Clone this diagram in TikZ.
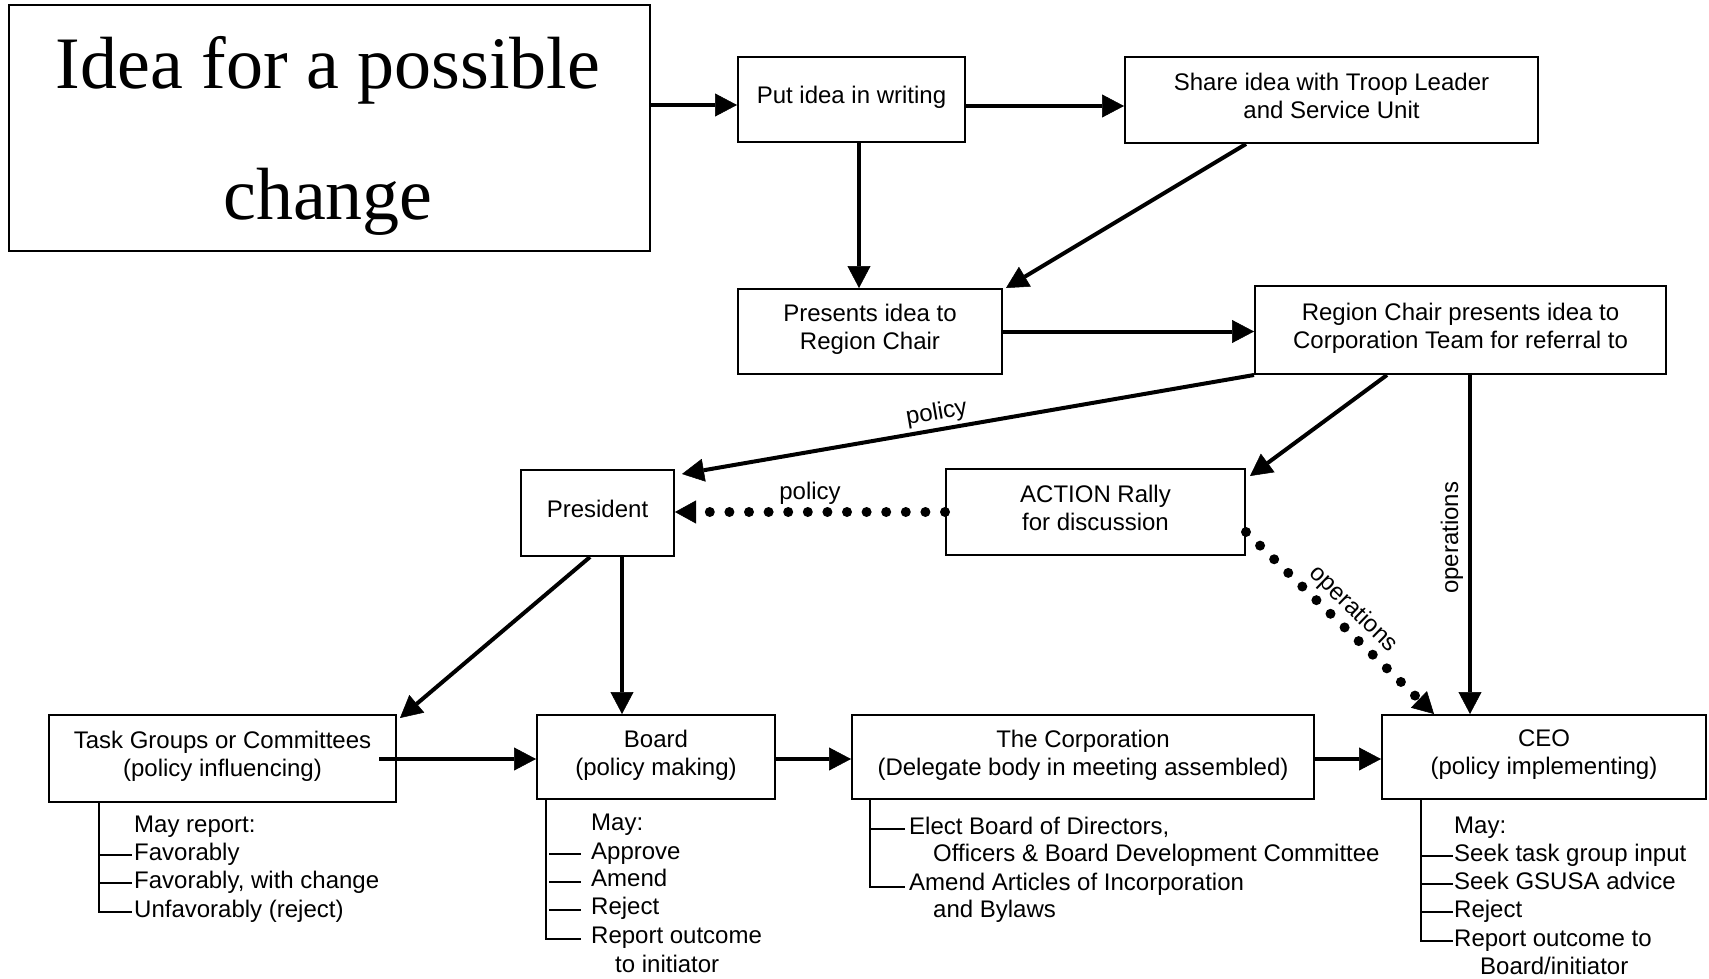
\documentclass[tikz,border=0pt]{standalone}
\usepackage{fontspec}
\setmainfont{Liberation Sans}
\newfontfamily\serifbig{Liberation Serif}
\usetikzlibrary{arrows.meta}
\begin{document}
\begin{tikzpicture}[x=1pt,y=-1pt,
  box/.style={draw, line width=2pt, inner sep=0pt, align=center, font=\fontsize{24}{28}\selectfont,
    execute at end node={\rule[-9pt]{0pt}{9pt}}},
  arr/.style={line width=4pt, -{Triangle[length=22pt,width=23pt,line width=0.5pt]}},
  dotarr/.style={line width=10pt, line cap=round, dash pattern=on 0pt off 19.6pt, -{Triangle[length=21pt,width=23pt,line width=0.5pt]}},
  lbl/.style={font=\fontsize{24}{28}\selectfont, inner sep=3pt},
  item/.style={anchor=base west, inner sep=0pt, font=\fontsize{24}{28}\selectfont},
  tick/.style={line width=2pt}]
\useasboundingbox[fill=white] (0,0) rectangle (1709,979);

% boxes
\node[draw, line width=2.5pt, inner sep=0pt, minimum width=641pt, minimum height=246pt] (idea) at (329.5,128) {};
\node[anchor=base, inner sep=0pt, font=\serifbig\fontsize{74}{80}\selectfont] (idea1) at (328,89) {Idea for a possible};
\node[anchor=base, inner sep=0pt, font=\serifbig\fontsize{74}{80}\selectfont] (idea2) at (328,219) {change};
\node[box, minimum width=227pt, minimum height=85pt] (write) at (851.5,99.5) {Put idea in writing};
\node[box, minimum width=413pt, minimum height=86pt] (share) at (1331.5,100) {Share idea with Troop Leader\\and Service Unit};
\node[box, minimum width=264pt, minimum height=85pt] (pres) at (870,331.5) {Presents idea to\\Region Chair};
\node[box, minimum width=411pt, minimum height=88pt] (region) at (1460.5,330) {Region Chair presents idea to\\Corporation Team for referral to};
\node[box, minimum width=153pt, minimum height=86pt] (president) at (597.5,513) {President};
\node[box, minimum width=299pt, minimum height=86pt] (action) at (1095.5,512) {ACTION Rally\\for discussion};
\node[box, minimum width=347pt, minimum height=87pt] (task) at (222.5,758.5) {Task Groups or Committees\\(policy influencing)};
\node[box, minimum width=238pt, minimum height=84pt] (board) at (656,757) {Board\\(policy making)};
\node[box, minimum width=462pt, minimum height=84pt] (corp) at (1083,757) {The Corporation\\(Delegate body in meeting assembled)};
\node[box, minimum width=324pt, minimum height=84pt] (ceo) at (1544,757) {CEO\\(policy implementing)};

% connectors
\draw[arr] (idea.east |- 0,105) -- (write.west |- 0,105);
\draw[arr] (write.east |- 0,106) -- (share.west |- 0,106);
\draw[arr] (write.south -| 859,0) -- (pres.north -| 859,0);
\draw[arr] (share.south -| 1246,0) -- ([xshift=3pt]pres.north east);
\draw[arr] (pres.east) -- (region.west |- pres.east);
\draw[arr] (region.south west) -- node[lbl, sloped, above, pos=0.55]{policy} ([xshift=7pt,yshift=-5pt]president.north east);
\draw[arr] (region.south -| 1387,0) -- ([xshift=4pt,yshift=-8pt]action.north east);
\draw[arr] (region.south -| 1470,0) -- node[lbl, inner sep=5pt, rotate=90, anchor=south, pos=0.48]{operations} (ceo.north -| 1470,0);
\draw[dotarr] (action.west) -- node[lbl, above]{policy} (president.east |- action.west);
\draw[dotarr] ([yshift=-20pt]action.east) -- node[lbl, sloped, above, pos=0.5]{operations} ([xshift=53pt]ceo.north west);
\draw[arr] (president.south -| 590,0) -- ([xshift=3pt,yshift=-4pt]task.north east);
\draw[arr] (president.south -| 622,0) -- (board.north -| 622,0);
\draw[arr, shorten <=-18pt] (task.east |- 0,759) -- (board.west |- 0,759);
\draw[arr] (board.east |- 0,759) -- (corp.west |- 0,759);
\draw[arr] (corp.east |- 0,759) -- (ceo.west |- 0,759);

% Task groups list
\draw[tick] (task.south -| 99,0) |- (132,912);
\draw[tick] (99,855) -- (132,855);
\draw[tick] (99,883) -- (132,883);
\node[item] (t0) at (134,832) {May report:};
\node[item] (t1) at (134,860) {Favorably};
\node[item] (t2) at (134,888) {Favorably, with change};
\node[item] (t3) at (134,917) {Unfavorably (reject)};

% Board list
\draw[tick] (board.south -| 546,0) |- (581,939);
\draw[tick] (549,854) -- (581,854);
\draw[tick] (549,882) -- (581,882);
\draw[tick] (549,910) -- (581,910);
\node[item] (b0) at (591,830) {May:};
\node[item] (b1) at (591,859) {Approve};
\node[item] (b2) at (591,886) {Amend};
\node[item] (b3) at (591,914) {Reject};
\node[item] (b4) at (591,943) {Report outcome};
\node[item] (b5) at (615,972) {to initiator};

% Corporation list
\draw[tick] (corp.south -| 870,0) |- (905,887);
\draw[tick] (870,829) -- (905,829);
\node[item] (c0) at (909,834) {Elect Board of Directors,};
\node[item] (c1) at (933,861) {Officers \& Board Development Committee};
\node[item] (c2) at (909,890) {Amend Articles of Incorporation};
\node[item] (c3) at (933,917) {and Bylaws};

% CEO list
\draw[tick] (ceo.south -| 1421,0) |- (1453,941);
\draw[tick] (1421,856) -- (1453,856);
\draw[tick] (1421,884) -- (1453,884);
\draw[tick] (1421,912) -- (1453,912);
\node[item] (e0) at (1454,833) {May:};
\node[item] (e1) at (1454,861) {Seek task group input};
\node[item] (e2) at (1454,889) {Seek GSUSA advice};
\node[item] (e3) at (1454,917) {Reject};
\node[item] (e4) at (1454,946) {Report outcome to};
\node[item] (e5) at (1480,974) {Board/initiator};
\end{tikzpicture}
\end{document}
